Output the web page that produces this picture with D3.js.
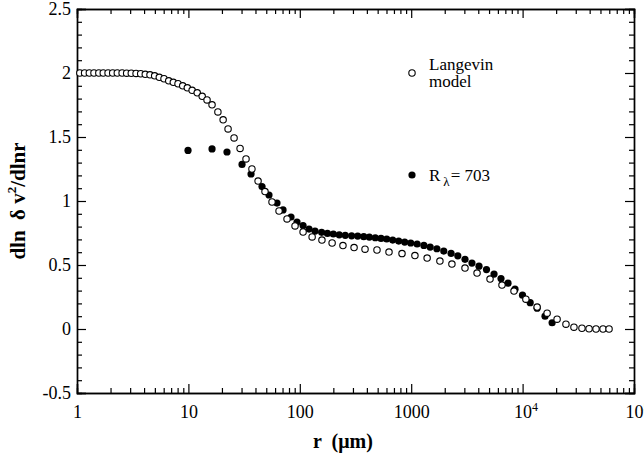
<!DOCTYPE html>
<html>
<head>
<meta charset="utf-8">
<script src="https://cdn.jsdelivr.net/npm/d3@7"></script>
<style>
  body { margin: 0; background: #fff; }
  svg { display: block; font-family: "Liberation Serif", "Times New Roman", serif; }
</style>
</head>
<body>
<script>
// Langevin model (open circles)
var langR = [1.06,1.17,1.29,1.42,1.57,1.72,1.90,2.09,2.30,2.54,2.79,3.07,3.39,3.73,4.10,4.52,4.98,5.48,6.04,6.66,7.32,8.07,8.89,9.78,
             10.8,12.0,13.3,14.7,16.3,18.4,20.5,22.7,25.7,29.1,32.9,37.2,42.2,48.7,56.3,65.1,76.8,90.6,
             107,129,158,195,244,307,385,493,632,827,1080,1390,1810,2320,3040,3900,5100,6530,8370,
             10700,13500,16600,20400,24500,28900,34100,39500,45600,52700,59700];
var langY = [2.00,2.00,2.00,2.00,2.00,2.00,2.00,2.00,2.00,2.00,1.999,1.998,1.997,1.994,1.990,1.986,1.978,1.966,1.955,1.939,1.927,1.916,1.900,1.884,
             1.865,1.845,1.818,1.790,1.751,1.696,1.634,1.563,1.493,1.411,1.329,1.250,1.156,1.074,0.992,0.922,0.860,0.805,
             0.758,0.719,0.695,0.672,0.652,0.636,0.624,0.617,0.601,0.589,0.574,0.554,0.531,0.507,0.476,0.437,0.390,0.343,0.296,
             0.233,0.171,0.124,0.077,0.038,0.014,0.006,0.002,0,0,0];

// R_lambda = 703 data (filled circles)
var dnsR = [9.92,16.3,22.2,30.3,36.5,45.8,52.9,62.4,70.7,83.4,94.4,107,121,137,157,177,200,226,256,292,
            331,375,421,476,536,603,682,772,874,990,1130,1300,1480,1700,1960,2280,2620,3040,3510,4060,
            4740,5540,6400,7400,8550,9980,11700,13500,15900,18400];
var dnsY = [1.395,1.407,1.383,1.286,1.211,1.113,1.047,0.984,0.930,0.875,0.836,0.808,0.781,0.765,0.755,0.747,0.742,0.736,0.732,0.728,
            0.726,0.721,0.718,0.713,0.708,0.703,0.695,0.687,0.679,0.672,0.664,0.653,0.640,0.627,0.609,0.591,0.572,0.544,0.515,0.491,
            0.464,0.429,0.394,0.358,0.311,0.264,0.206,0.163,0.100,0.049];

var xTicks = [1, 10, 100, 1000, 1e4, 1e5];
var xTickBase = ["1", "10", "100", "1000", "10", "10"];
var xTickSup  = ["", "", "", "", "4", "5"];
var yTicks = [-0.5, 0, 0.5, 1, 1.5, 2, 2.5];
var yTickLabels = ["-0.5", "0", "0.5", "1", "1.5", "2", "2.5"];

var w = 644, h = 459;
var mLeft = 77, mRight = 634, mTop = 9, mBottom = 393;

var svg = d3.select("body").append("svg")
            .attr("width", w)
            .attr("height", h);

var x = d3.scaleLog().domain([1, 1e5]).range([mLeft, mRight]);
var y = d3.scaleLinear().domain([-0.5, 2.5]).range([mBottom, mTop]);

// minor ticks
var xMinor = [];
for (var e = 0; e < 5; e++) {
    for (var k = 2; k < 10; k++) xMinor.push(k * Math.pow(10, e));
}
var yMinor = d3.range(-5, 26).map(d => d / 10).filter(d => Math.abs(d * 2 - Math.round(d * 2)) > 1e-6);

function styleAxis(g) {
    g.select(".domain").attr("stroke", "#000").attr("stroke-width", 1.4);
    g.selectAll(".tick line").attr("stroke", "#000").attr("stroke-width", 1.2);
    g.selectAll(".tick text").attr("font-family", "Liberation Serif").attr("font-size", 18).attr("fill", "#000");
}

// bottom
var gxB = svg.append("g").attr("transform", "translate(0," + mBottom + ")")
    .call(d3.axisBottom(x).tickValues(xTicks).tickSize(-9).tickPadding(12)
          .tickFormat((d, i) => xTickBase[i]));
svg.append("g").attr("transform", "translate(0," + mBottom + ")")
    .call(d3.axisBottom(x).tickValues(xMinor).tickSize(-5).tickFormat(""))
    .call(styleAxis);
styleAxis(gxB);
gxB.selectAll(".tick text").each(function(d, i) {
    if (xTickSup[i]) {
        var t = d3.select(this);
        t.attr("dx", 3);
        t.append("tspan").attr("font-size", 12).attr("dy", -7).text(xTickSup[i]);
    }
});

// top
svg.append("g").attr("transform", "translate(0," + mTop + ")")
    .call(d3.axisTop(x).tickValues(xTicks).tickSize(-9).tickFormat(""))
    .call(styleAxis);
svg.append("g").attr("transform", "translate(0," + mTop + ")")
    .call(d3.axisTop(x).tickValues(xMinor).tickSize(-5).tickFormat(""))
    .call(styleAxis);

// left
var gyL = svg.append("g").attr("transform", "translate(" + mLeft + ",0)")
    .call(d3.axisLeft(y).tickValues(yTicks).tickSize(-9).tickPadding(6)
          .tickFormat((d, i) => yTickLabels[i]));
styleAxis(gyL);
svg.append("g").attr("transform", "translate(" + mLeft + ",0)")
    .call(d3.axisLeft(y).tickValues(yMinor).tickSize(-5).tickFormat(""))
    .call(styleAxis);

// right
svg.append("g").attr("transform", "translate(" + mRight + ",0)")
    .call(d3.axisRight(y).tickValues(yTicks).tickSize(-9).tickFormat(""))
    .call(styleAxis);
svg.append("g").attr("transform", "translate(" + mRight + ",0)")
    .call(d3.axisRight(y).tickValues(yMinor).tickSize(-5).tickFormat(""))
    .call(styleAxis);

// data points: filled first, open on top
svg.append("g").selectAll("circle")
   .data(dnsR.map((r, i) => [r, dnsY[i]]))
   .enter().append("circle")
   .attr("cx", d => x(d[0]))
   .attr("cy", d => y(d[1]))
   .attr("r", 3.6)
   .attr("fill", "#000");

svg.append("g").selectAll("circle")
   .data(langR.map((r, i) => [r, langY[i]]))
   .enter().append("circle")
   .attr("cx", d => x(d[0]))
   .attr("cy", d => y(d[1]))
   .attr("r", 3.2)
   .attr("fill", "#fff")
   .attr("stroke", "#000")
   .attr("stroke-width", 1.1);

// legend
svg.append("circle").attr("cx", 412).attr("cy", 73).attr("r", 3.2)
   .attr("fill", "#fff").attr("stroke", "#000").attr("stroke-width", 1.1);
svg.append("text").attr("x", 429).attr("y", 70).attr("font-size", 17).text("Langevin");
svg.append("text").attr("x", 429).attr("y", 87).attr("font-size", 17).text("model");

svg.append("circle").attr("cx", 412).attr("cy", 175).attr("r", 3.6).attr("fill", "#000");
var rl = svg.append("text").attr("x", 429).attr("y", 181).attr("font-size", 17);
rl.append("tspan").text("R");
rl.append("tspan").attr("dx", 3).attr("dy", 5).attr("font-size", 13).text("λ");
rl.append("tspan").attr("dx", 1).attr("dy", -5).text("= 703");

// axis titles
svg.append("text")
   .attr("x", 343).attr("y", 448)
   .attr("text-anchor", "middle")
   .attr("font-size", 20).attr("font-weight", "bold")
   .style("white-space", "pre")
   .text("r  (μm)");

var yt = svg.append("text")
   .attr("transform", "translate(25," + ((mTop + mBottom) / 2) + ") rotate(-90)")
   .attr("text-anchor", "middle")
   .attr("font-size", 21).attr("font-weight", "bold")
   .style("white-space", "pre");
yt.append("tspan").text("dln  δ v");
yt.append("tspan").attr("font-size", 13).attr("dy", -9).text("2");
yt.append("tspan").attr("dy", 9).text("/dlnr");
</script>
</body>
</html>
